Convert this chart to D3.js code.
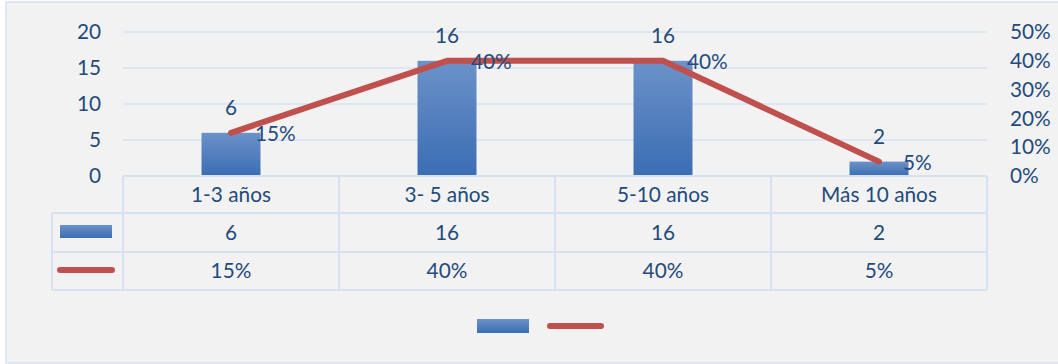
<!DOCTYPE html>
<html><head><meta charset="utf-8">
<script src="https://cdn.jsdelivr.net/npm/d3@7/dist/d3.min.js"></script>
<style>html,body{margin:0;padding:0;background:#fff;}svg{display:block;}</style>
</head><body>
<script>
const categories = ["1-3 años", "3- 5 años", "5-10 años", "Más 10 años"];
const counts = [6, 16, 16, 2];
const percents = [0.15, 0.40, 0.40, 0.05];
const leftTicks = [0, 5, 10, 15, 20];
const rightTicks = [0, 0.1, 0.2, 0.3, 0.4, 0.5];

const W = 1058, H = 364;
const textColor = "#244a7c", gridColor = "#d6e2f2", lineColor = "#c0504d";
const font = "Lato, 'Open Sans', sans-serif";
const fs = 20.8;

const svg = d3.select("body").append("svg").attr("width", W).attr("height", H);
const defs = svg.append("defs");
const grad = defs.append("linearGradient").attr("id", "barGrad").attr("x1", 0).attr("y1", 0).attr("x2", 0).attr("y2", 1);
grad.append("stop").attr("offset", "0%").attr("stop-color", "#6b92c9");
grad.append("stop").attr("offset", "100%").attr("stop-color", "#3b6db3");

svg.append("rect").attr("x", 6).attr("y", 2).attr("width", W + 10).attr("height", 361)
  .attr("fill", "#f2f2f2").attr("stroke", "#d6e2f2").attr("stroke-width", 1.5);

const plotL = 123, plotR = 987, plotT = 32, plotB = 176;
const x = d3.scaleBand().domain(categories).range([plotL, plotR]).paddingInner(0).paddingOuter(0);
const yL = d3.scaleLinear().domain([0, 20]).range([plotB, plotT]);
const yR = d3.scaleLinear().domain([0, 0.5]).range([plotB, plotT]);

// gridlines
svg.append("g").selectAll("line").data(leftTicks).join("line")
  .attr("x1", plotL).attr("x2", plotR).attr("y1", d => yL(d)).attr("y2", d => yL(d))
  .attr("stroke", gridColor).attr("stroke-width", 1.5);

// left axis
const axL = svg.append("g").attr("transform", `translate(${plotL},0)`)
  .call(d3.axisLeft(yL).tickValues(leftTicks).tickSize(0).tickPadding(22));
axL.select(".domain").remove();
axL.selectAll("text").attr("fill", textColor).style("font-family", font).style("font-size", fs + "px");

// right axis
const axR = svg.append("g").attr("transform", `translate(${plotR},0)`)
  .call(d3.axisRight(yR).tickValues(rightTicks).tickSize(0).tickPadding(23).tickFormat(d3.format(".0%")));
axR.select(".domain").remove();
axR.selectAll("text").attr("fill", textColor).style("font-family", font).style("font-size", fs + "px");

// bars
const bw = x.bandwidth() * 0.273;
svg.append("g").selectAll("rect").data(counts).join("rect")
  .attr("x", (d, i) => x(categories[i]) + x.bandwidth() / 2 - bw / 2)
  .attr("width", bw)
  .attr("y", d => yL(d)).attr("height", d => yL(0) - yL(d))
  .attr("fill", "url(#barGrad)");

// line
const line = d3.line().x((d, i) => x(categories[i]) + x.bandwidth() / 2).y(d => yR(d));
svg.append("path").datum(percents).attr("d", line)
  .attr("fill", "none").attr("stroke", lineColor).attr("stroke-width", 6)
  .attr("stroke-linecap", "round").attr("stroke-linejoin", "round");

// bar labels
svg.append("g").selectAll("text").data(counts).join("text")
  .attr("x", (d, i) => x(categories[i]) + x.bandwidth() / 2)
  .attr("y", d => yL(d) - 25).attr("dy", "0.35em")
  .attr("text-anchor", "middle").attr("fill", textColor)
  .style("font-family", font).style("font-size", fs + "px").text(d => d);

// line labels
svg.append("g").selectAll("text").data(percents).join("text")
  .attr("x", (d, i) => x(categories[i]) + x.bandwidth() / 2 + 24)
  .attr("y", d => yR(d) + 1).attr("dy", "0.35em")
  .attr("text-anchor", "start").attr("fill", textColor)
  .style("font-family", font).style("font-size", fs + "px").text(d => d3.format(".0%")(d));

// data table
const rows = [176, 213, 252, 290];
const keyL = 52;
const tg = svg.append("g").attr("stroke", gridColor).attr("stroke-width", 2);
tg.append("line").attr("x1", plotL).attr("x2", plotR).attr("y1", rows[0]).attr("y2", rows[0]);
rows.slice(1).forEach(r => tg.append("line").attr("x1", keyL).attr("x2", plotR).attr("y1", r).attr("y2", r));
tg.append("line").attr("x1", keyL).attr("x2", keyL).attr("y1", rows[1]).attr("y2", rows[3]);
categories.forEach(c => tg.append("line").attr("x1", x(c)).attr("x2", x(c)).attr("y1", rows[0]).attr("y2", rows[3]));
tg.append("line").attr("x1", plotR).attr("x2", plotR).attr("y1", rows[0]).attr("y2", rows[3]);

const cellText = (vals, r0, r1, fmt) => svg.append("g").selectAll("text").data(vals).join("text")
  .attr("x", (d, i) => x(categories[i]) + x.bandwidth() / 2)
  .attr("y", (r0 + r1) / 2).attr("dy", "0.35em")
  .attr("text-anchor", "middle").attr("fill", textColor)
  .style("font-family", font).style("font-size", fs + "px").text(fmt);
cellText(categories, rows[0], rows[1], d => d);
cellText(counts, rows[1], rows[2], d => d);
cellText(percents, rows[2], rows[3], d => d3.format(".0%")(d));

// table legend keys
svg.append("rect").attr("x", 60).attr("y", 225).attr("width", 52).attr("height", 13).attr("fill", "url(#barGrad)");
svg.append("line").attr("x1", 60).attr("x2", 112).attr("y1", 270).attr("y2", 270)
  .attr("stroke", lineColor).attr("stroke-width", 6).attr("stroke-linecap", "round");

// bottom legend
svg.append("rect").attr("x", 477).attr("y", 319).attr("width", 52).attr("height", 14).attr("fill", "url(#barGrad)");
svg.append("line").attr("x1", 550).attr("x2", 601).attr("y1", 326).attr("y2", 326)
  .attr("stroke", lineColor).attr("stroke-width", 6).attr("stroke-linecap", "round");
</script>
</body></html>
